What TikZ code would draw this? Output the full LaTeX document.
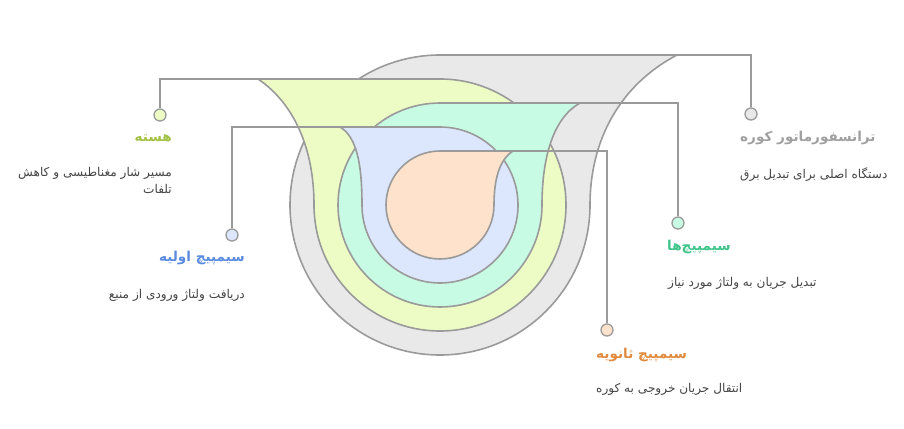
\documentclass[tikz,border=0pt]{standalone}
\usepackage{fontspec}
\newfontfamily\fa[Script=Arabic]{DejaVu Sans}
\TeXXeTstate=1
\usepackage{tikz}

\definecolor{edgegray}{HTML}{9A9A9A}
\definecolor{grayfill}{HTML}{E9E9E9}
\definecolor{corefill}{HTML}{EDFCC4}
\definecolor{windfill}{HTML}{C8FBE4}
\definecolor{primfill}{HTML}{DCE7FD}
\definecolor{secfill}{HTML}{FEE2CB}
\definecolor{graytitle}{HTML}{A0A0A0}
\definecolor{coretitle}{HTML}{A2C144}
\definecolor{windtitle}{HTML}{3FC489}
\definecolor{primtitle}{HTML}{5A8BDF}
\definecolor{sectitle}{HTML}{E08B3E}
\definecolor{desctext}{HTML}{444444}

\begin{document}
\begin{tikzpicture}[x=1pt,y=1pt]
      \tikzset { layer/.style = { draw=edgegray, line width=1.6pt, line join=round } }
      \tikzset { dot/.style = { shape=circle, draw=edgegray, line width=1.3pt, minimum size=12pt, inner sep=0pt } }
      \tikzset { link/.style = { draw=edgegray, line width=1.6pt } }
      \tikzset { title/.style = { font=\fa\bfseries\fontsize{13.6}{16}\selectfont, inner sep=0pt } }
      \tikzset { desc/.style = { font=\fa\fontsize{12.1}{17}\selectfont, text=desctext, inner sep=0pt } }

      \useasboundingbox (0,0) rectangle (904,-428);

      % nested layers
      \filldraw[layer, fill=grayfill] (440,-55) -- (677,-55) .. controls (620,-85) and (590,-140) .. (590,-205)
            arc[start angle=0, end angle=-270, radius=150] -- cycle;
      \filldraw[layer, fill=corefill] (440,-79) -- (258,-79) .. controls (295,-104) and (314,-150) .. (314,-205)
            arc[start angle=180, end angle=450, radius=126] -- cycle;
      \filldraw[layer, fill=windfill] (440,-103) -- (580,-103) .. controls (553,-118) and (542,-158) .. (542,-205)
            arc[start angle=0, end angle=-270, radius=102] -- cycle;
      \filldraw[layer, fill=primfill] (440,-127) -- (340,-127) .. controls (357,-137) and (362,-165) .. (362,-205)
            arc[start angle=180, end angle=450, radius=78] -- cycle;
      \filldraw[layer, fill=secfill] (440,-151) -- (513,-151) .. controls (499,-160) and (494,-180) .. (494,-205)
            arc[start angle=0, end angle=-270, radius=54] -- cycle;

      \coordinate (grayTip) at (677,-55);
      \coordinate (coreTip) at (258,-79);
      \coordinate (windTip) at (580,-103);
      \coordinate (primTip) at (340,-127);
      \coordinate (secTip) at (513,-151);

      \node[dot, fill=grayfill] (grayDot) at (751,-114) {};
      \node[dot, fill=corefill] (coreDot) at (160,-115) {};
      \node[dot, fill=windfill] (windDot) at (678,-223) {};
      \node[dot, fill=primfill] (primDot) at (232,-235) {};
      \node[dot, fill=secfill] (secDot) at (607,-330) {};

      \draw[link] (grayTip) -| (grayDot);
      \draw[link] (coreTip) -| (coreDot);
      \draw[link] (windTip) -| (windDot);
      \draw[link] (primTip) -| (primDot);
      \draw[link] (secTip) -| (secDot);

      % labels
      \node[title, text=graytitle, anchor=west] (grayTitle) at (740,-138) {\beginR ترانسفورماتور کوره\endR};
      \node[desc, anchor=west] (grayDesc) at (740,-175) {\beginR دستگاه اصلی برای تبدیل برق\endR};
      \node[title, text=coretitle, anchor=east] (coreTitle) at (172,-138) {\beginR هسته\endR};
      \node[desc, anchor=east, align=right] (coreDesc) at (172,-180.5) {\beginR مسیر شار مغناطیسی و کاهش\endR\\\beginR تلفات\endR};
      \node[title, text=windtitle, anchor=west] (windTitle) at (667,-247) {\beginR سیمپیچ‌ها\endR};
      \node[desc, anchor=west] (windDesc) at (668,-283) {\beginR تبدیل جریان به ولتاژ مورد نیاز\endR};
      \node[title, text=primtitle, anchor=east] (primTitle) at (245,-258) {\beginR سیمپیچ اولیه\endR};
      \node[desc, anchor=east] (primDesc) at (245,-295) {\beginR دریافت ولتاژ ورودی از منبع\endR};
      \node[title, text=sectitle, anchor=west] (secTitle) at (596,-355) {\beginR سیمپیچ ثانویه\endR};
      \node[desc, anchor=west] (secDesc) at (596,-389) {\beginR انتقال جریان خروجی به کوره\endR};

\end{tikzpicture}
\end{document}
